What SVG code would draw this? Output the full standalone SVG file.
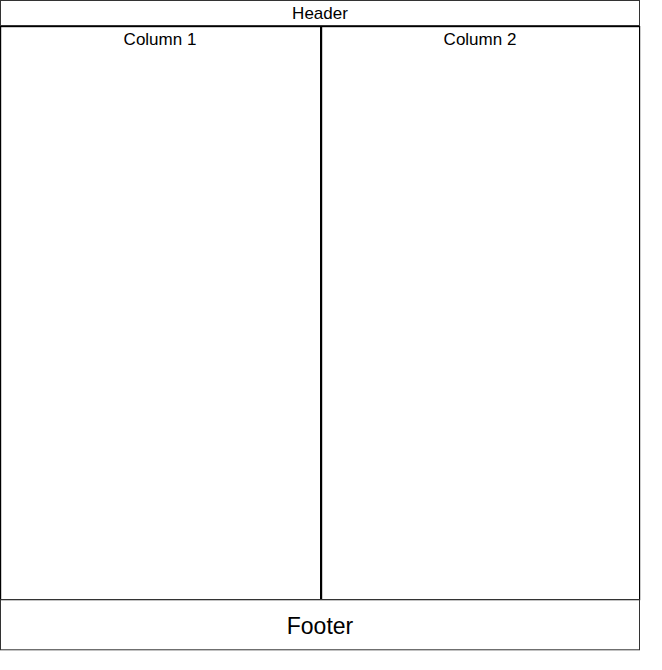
<svg xmlns="http://www.w3.org/2000/svg" width="662" height="670" viewBox="0 0 662 670">
<style>
.t{font-family:"Liberation Sans",Arial,sans-serif;fill:#000;text-anchor:middle}
.g{fill:#fff;stroke:#333;stroke-width:1}
.c{fill:#fff;stroke:#000;stroke-width:1.2}
</style>
<rect width="662" height="670" fill="#fff"/>
<g id="header">
<rect class="g" x="0.5" y="0.5" width="639" height="25"/>
<text class="t" x="320" y="19" font-size="17">Header</text>
</g>
<g id="column1">
<rect class="c" x="0.6" y="26.6" width="320" height="573"/>
<text class="t" x="160" y="44.5" font-size="17">Column 1</text>
</g>
<g id="column2">
<rect class="c" x="321.6" y="26.6" width="318" height="573"/>
<text class="t" x="480" y="44.5" font-size="17">Column 2</text>
</g>
<g id="footer">
<rect class="g" x="0.5" y="599.8" width="639" height="50"/>
<text class="t" x="320" y="634" font-size="23">Footer</text>
</g>
<g id="connectors"></g>
</svg>
